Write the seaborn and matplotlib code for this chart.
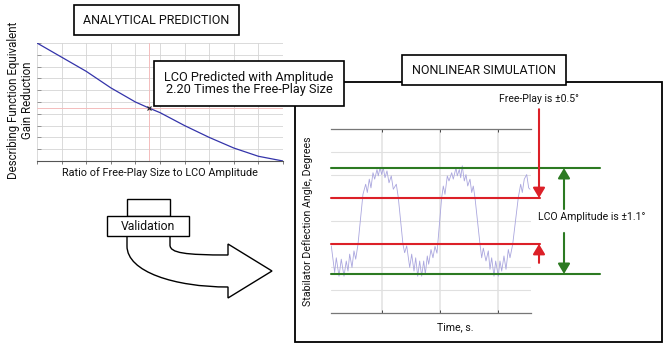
import numpy as np
import pandas as pd
import matplotlib
matplotlib.use("Agg")
import matplotlib.pyplot as plt
import seaborn as sns
from matplotlib.patches import Rectangle, PathPatch
from matplotlib.path import Path

# analytical prediction (describing function curve)
ratio = [0.0, 0.1, 0.2, 0.3, 0.4, 0.455, 0.5, 0.6, 0.7, 0.8, 0.9, 1.0]
gain = [1.0, 0.88, 0.76, 0.62, 0.50, 0.449, 0.41, 0.30, 0.20, 0.11, 0.04, 0.0]
pred_ratio = 0.455   # 1 / 2.20
pred_gain = 0.449

# nonlinear simulation trace
time_s = [0.126, 0.184, 0.212, 0.259, 0.298, 0.345, 0.384, 0.414, 0.443, 0.483,
          0.517, 0.547, 0.586, 0.672, 0.719, 0.747, 0.781, 0.810, 0.845, 0.874,
          0.914, 0.936, 0.966, 0.995, 1.022, 1.052, 1.086, 1.121, 1.160, 1.195,
          1.247, 1.281, 1.362, 1.391, 1.426, 1.478, 1.512, 1.552, 1.581, 1.616,
          1.650, 1.684, 1.719, 1.747, 1.781, 1.805, 1.845, 1.879, 1.914, 1.948,
          2.029, 2.057, 2.086, 2.126, 2.155, 2.202, 2.229, 2.276, 2.298, 2.333,
          2.357, 2.384, 2.419, 2.448, 2.478, 2.517, 2.547, 2.574, 2.603, 2.690,
          2.719, 2.747, 2.793, 2.833, 2.862, 2.891, 2.931, 2.960, 3.005, 3.034,
          3.064, 3.103, 3.138, 3.178, 3.207, 3.253, 3.350, 3.391, 3.419, 3.453,
          3.495, 3.529, 3.552]
angle_deg = [-0.54, -1.12, -0.80, -1.20, -0.83, -1.20, -0.87, -1.09, -0.72, -1.01,
             -0.65, -0.83, -0.51, 0.58, 0.80, 0.62, 0.91, 0.72, 1.05, 0.91,
             1.12, 0.98, 1.16, 1.01, 1.16, 0.94, 1.09, 0.83, 0.98, 0.69,
             0.80, 0.51, -0.51, -0.69, -0.54, -1.01, -0.72, -1.09, -0.80, -1.20,
             -0.87, -1.20, -0.87, -1.16, -0.76, -0.94, -0.62, -0.80, -0.55, -0.70,
             0.51, 0.76, 0.58, 0.98, 0.87, 1.05, 0.91, 1.16, 0.98, 1.12,
             0.94, 1.20, 0.87, 1.01, 0.76, 0.91, 0.62, 0.76, 0.51, -0.51,
             -0.80, -0.59, -0.87, -0.65, -1.05, -0.80, -1.20, -0.87, -1.20, -0.87,
             -1.09, -0.76, -1.05, -0.62, -0.80, -0.51, 0.51, 0.80, 0.62, 0.91,
             1.01, 0.72, 0.69]
freeplay = 0.5
lco_amp = 1.15

RED = "#dc2028"
GREEN = "#2c7a22"

sns.set_theme(style="white")
plt.rcParams["font.family"] = ["Roboto", "DejaVu Sans"]

W, H = 671, 351
fig = plt.figure(figsize=(W / 100, H / 100), dpi=100)


def px_axes(x0, y0, x1, y1, z):
    return fig.add_axes([x0 / W, 1 - y1 / H, (x1 - x0) / W, (y1 - y0) / H], zorder=z)


def overlay(z):
    a = fig.add_axes([0, 0, 1, 1], zorder=z)
    a.set_xlim(0, W)
    a.set_ylim(H, 0)
    a.axis("off")
    a.patch.set_alpha(0)
    return a


back = overlay(0)
front = overlay(10)

# ---- analytical prediction plot
ax1 = px_axes(37, 43, 283, 161, 2)
ax1.patch.set_alpha(0)
df1 = pd.DataFrame({"ratio": ratio, "gain": gain})
sns.lineplot(data=df1, x="ratio", y="gain", ax=ax1, color="#3434aa", lw=0.9, zorder=4)
ax1.axvline(pred_ratio, color="#f4bcbc", lw=0.7, zorder=2)
ax1.axhline(pred_gain, color="#f4bcbc", lw=0.7, zorder=2)
ax1.plot([pred_ratio], [pred_gain], marker="x", ms=3, mew=0.8, color="#222", zorder=5)
ax1.set_xlim(0, 1)
ax1.set_ylim(0, 1)
ax1.set_xticks(np.linspace(0, 1, 11))
ax1.set_yticks(np.linspace(0, 1, 11))
ax1.grid(True, color="#d4d4d4", lw=0.6)
ax1.tick_params(axis="x", bottom=True, length=2, width=0.6, color="#666", labelbottom=False)
ax1.tick_params(axis="y", left=True, direction="in", length=3, width=0.6, color="#888", labelleft=False)
for s in ["top", "right", "left"]:
    ax1.spines[s].set_visible(False)
ax1.spines["bottom"].set_color("#555")
ax1.spines["bottom"].set_linewidth(0.8)
ax1.set_xlabel("")
ax1.set_ylabel("")

# ---- nonlinear simulation plot
back.add_patch(Rectangle((295, 82), 367, 260, fill=False, ec="black", lw=1.3))

ax2 = px_axes(331, 129, 531, 313, 3)
ax2.patch.set_alpha(0)
df2 = pd.DataFrame({"time": time_s, "angle": angle_deg})
sns.lineplot(data=df2, x="time", y="angle", ax=ax2, color="#aaa6de", lw=0.6, zorder=4)
ax2.set_xlim(0.121, 3.569)
ax2.set_ylim(-2, 2)
ax2.set_xticks([1, 2, 3])
ax2.set_yticks(np.arange(-2, 2.01, 0.5))
ax2.grid(True, axis="y", color="#e0e0e0", lw=0.8)
ax2.grid(True, axis="x", color="#e4e4e4", lw=1.2)
ax2.tick_params(axis="x", bottom=True, top=True, direction="in", length=2.5, width=0.7,
                color="#444", labelbottom=False)
ax2.tick_params(axis="y", left=False, labelleft=False)
for s in ["left", "right"]:
    ax2.spines[s].set_visible(False)
for s in ["top", "bottom"]:
    ax2.spines[s].set_color("#777")
    ax2.spines[s].set_linewidth(0.9)
ax2.set_xlabel("")
ax2.set_ylabel("")

# level lines extending past the plot
for lev in (lco_amp, -lco_amp):
    ax2.plot([0.121, 4.76], [lev, lev], color=GREEN, lw=1.5, clip_on=False, zorder=6)
for lev in (freeplay, -freeplay):
    ax2.plot([0.121, 3.72], [lev, lev], color=RED, lw=1.5, clip_on=False, zorder=6)


def arrow(x, y0, y1, c):
    ax2.annotate("", xy=(x, y1), xytext=(x, y0),
                 arrowprops=dict(arrowstyle="-|>,head_length=0.6,head_width=0.36",
                                 color=c, lw=1.5, shrinkA=0, shrinkB=0, mutation_scale=10),
                 annotation_clip=False, zorder=7)


arrow(3.707, 2.43, freeplay, RED)
arrow(3.707, -0.91, -freeplay, RED)
arrow(4.138, 0.26, lco_amp, GREEN)
arrow(4.138, -0.26, -lco_amp, GREEN)

# ---- boxes and labels
def box(x0, y0, x1, y1, lw=1.2):
    front.add_patch(Rectangle((x0, y0), x1 - x0, y1 - y0, fc="white", ec="black", lw=lw))


TXT = "#111111"
box(74, 5, 239, 35)
front.text(156.5, 20, "ANALYTICAL PREDICTION", ha="center", va="center", fontsize=9, color=TXT)
box(154, 61, 344, 106)
front.text(249, 83.5, "LCO Predicted with Amplitude\n2.20 Times the Free-Play Size",
           ha="center", va="center", fontsize=9.2, linespacing=1.0, color=TXT)
box(402, 55, 566, 85)
front.text(484, 70, "NONLINEAR SIMULATION", ha="center", va="center", fontsize=9, color=TXT)

front.text(20.5, 100, "Describing Function Equivalent\nGain Reduction", rotation=90,
           ha="center", va="center", fontsize=8.3, linespacing=1.05, color=TXT)
front.text(160, 173, "Ratio of Free-Play Size to LCO Amplitude", ha="center", va="center",
           fontsize=7.8, color=TXT)
front.text(308, 221, "Stabilator Deflection Angle, Degrees", rotation=90,
           ha="center", va="center", fontsize=7.7, color=TXT)
front.text(455, 327, "Time, s.", ha="center", va="center", fontsize=7.7, color=TXT)
front.text(539, 99, "Free-Play is \u00b10.5\u00b0", ha="center", va="center", fontsize=7.5, color=TXT)
front.text(592, 217, "LCO Amplitude is \u00b11.1\u00b0", ha="center", va="center", fontsize=7.6,
           color=TXT, bbox=dict(fc="white", ec="none", pad=1))

# ---- validation arrow
verts = [(127, 236), (127, 246), (127, 272), (175, 287), (228, 287), (228, 298),
         (272, 271), (228, 244), (228, 255), (185, 255), (170, 253), (170, 245), (170, 236)]
codes = [Path.MOVETO, Path.LINETO, Path.CURVE4, Path.CURVE4, Path.CURVE4, Path.LINETO,
         Path.LINETO, Path.LINETO, Path.LINETO, Path.CURVE4, Path.CURVE4, Path.CURVE4,
         Path.LINETO]
front.add_patch(PathPatch(Path(verts, codes), fc="white", ec="black", lw=1.0))
front.add_patch(Rectangle((127, 199), 43, 17, fc="white", ec="black", lw=1.0))
box(107, 216, 189, 236, lw=1.0)
front.text(148, 226, "Validation", ha="center", va="center", fontsize=8.8, color=TXT)

fig.savefig("out.png", dpi=100)
